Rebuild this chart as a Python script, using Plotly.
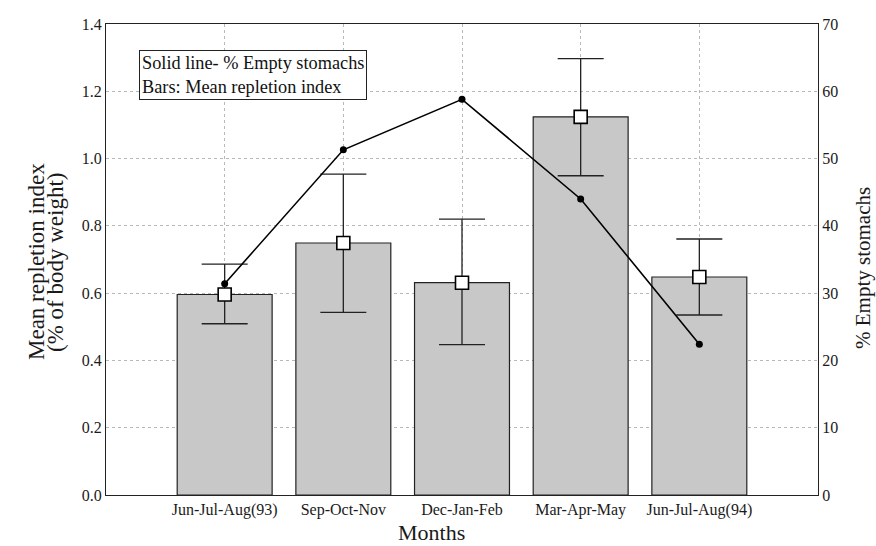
import plotly.graph_objects as go

months = ["Jun-Jul-Aug(93)", "Sep-Oct-Nov", "Dec-Jan-Feb", "Mar-Apr-May", "Jun-Jul-Aug(94)"]
repletion_mean = [0.596, 0.749, 0.631, 1.124, 0.648]
repletion_upper = [0.686, 0.954, 0.820, 1.297, 0.761]
repletion_lower = [0.509, 0.543, 0.447, 0.949, 0.535]
empty_pct = [31.4, 51.3, 58.8, 44.0, 22.4]

Y1_MAX = 1.4
Y2_MAX = 70
scale = Y2_MAX / Y1_MAX

err_plus = [u - m for u, m in zip(repletion_upper, repletion_mean)]
err_minus = [m - l for m, l in zip(repletion_mean, repletion_lower)]

serif = "Liberation Serif"
W, H = 876, 546
L, R, T, B = 106, 58, 24, 51
pw, ph = W - L - R, H - T - B

def px(xp):
    return (xp - L) / pw

def py(yp):
    return (H - B - yp) / ph

fig = go.Figure()
fig.add_trace(go.Bar(
    x=months, y=repletion_mean, width=0.8,
    marker=dict(color="#c8c8c8", line=dict(color="#222222", width=1.2)),
    error_y=dict(type="data", symmetric=False, array=err_plus, arrayminus=err_minus,
                 color="#222222", thickness=1.3, width=23),
    showlegend=False, yaxis="y",
))
fig.add_trace(go.Scatter(
    x=months, y=empty_pct, mode="lines+markers",
    line=dict(color="black", width=1.6),
    marker=dict(symbol="circle", size=7, color="black"),
    showlegend=False, yaxis="y2",
))
fig.add_trace(go.Scatter(
    x=months, y=[m * scale for m in repletion_mean], mode="markers",
    marker=dict(symbol="square", size=13, color="white", line=dict(color="black", width=1.6)),
    showlegend=False, yaxis="y2",
))

grid = dict(showgrid=True, gridcolor="#b8b8b8", gridwidth=1, griddash="dot")
title_font = dict(size=21, family=serif, color="#1a1a1a")

fig.update_layout(
    width=W, height=H,
    margin=dict(l=L, r=R, t=T, b=B),
    plot_bgcolor="white", paper_bgcolor="white",
    font=dict(family=serif, color="#1a1a1a"),
    xaxis=dict(
        range=[-1, 5], showline=True, linecolor="#222222", linewidth=1.3, mirror=True,
        tickfont=dict(size=16, family=serif), ticks="",
        zeroline=False, **grid,
    ),
    yaxis=dict(
        range=[0, Y1_MAX], dtick=0.2, tickformat=".1f",
        showline=True, linecolor="#222222", linewidth=1.3, mirror=True,
        tickfont=dict(size=16, family=serif), ticks="",
        zeroline=False, **grid,
    ),
    yaxis2=dict(
        range=[0, Y2_MAX], dtick=10, overlaying="y", side="right",
        showline=True, linecolor="#222222", linewidth=1.3,
        tickfont=dict(size=16, family=serif), ticks="",
        showgrid=False, zeroline=False,
    ),
    annotations=[
        dict(xref="paper", yref="paper", x=px(139), y=py(50), xanchor="left", yanchor="top",
             text="Solid line- % Empty stomachs<br>Bars: Mean repletion index",
             showarrow=False, align="left", font=dict(size=18.3, family=serif, color="#111111"),
             bordercolor="#222222", borderwidth=1, borderpad=2, bgcolor="white"),
        dict(xref="paper", yref="paper", x=px(431), y=py(532), xanchor="center", yanchor="middle",
             text="Months", showarrow=False, font=dict(size=22, family=serif, color="#1a1a1a")),
        dict(xref="paper", yref="paper", x=px(36), y=py(262), xanchor="center", yanchor="middle",
             text="Mean repletion index", textangle=-90, showarrow=False,
             font=dict(size=23, family=serif, color="#1a1a1a")),
        dict(xref="paper", yref="paper", x=px(55), y=py(262), xanchor="center", yanchor="middle",
             text="(% of body weight)", textangle=-90, showarrow=False,
             font=dict(size=23, family=serif, color="#1a1a1a")),
        dict(xref="paper", yref="paper", x=px(863), y=py(268), xanchor="center", yanchor="middle",
             text="% Empty stomachs", textangle=-90, showarrow=False, font=title_font),
    ],
)

fig.write_html("out.html")
